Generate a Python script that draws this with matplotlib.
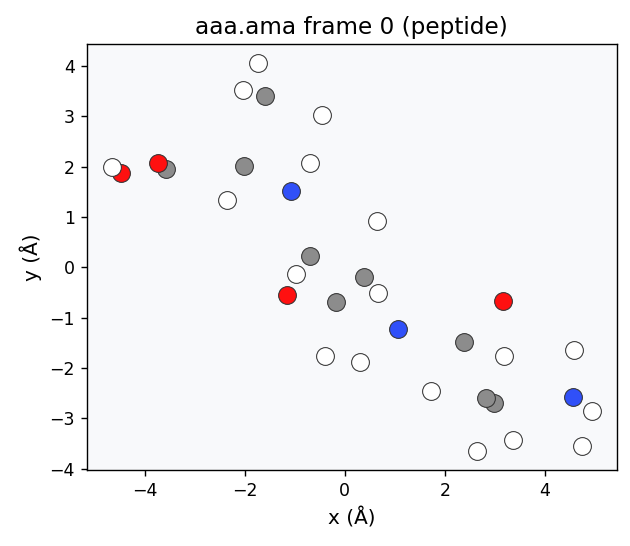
import numpy as np
import matplotlib
matplotlib.use("Agg")
import matplotlib.pyplot as plt

# atom coordinates (Angstrom), grouped by element
c_x = [-1.60, -2.02, -3.58, -0.70, 0.38, -0.18, 2.38, 2.98, 2.82]
c_y = [3.41, 2.02, 1.96, 0.22, -0.20, -0.69, -1.49, -2.70, -2.60]

o_x = [-4.48, -3.74, -1.16, 3.16]
o_y = [1.88, 2.08, -0.56, -0.67]

h_x = [-1.74, -2.04, -0.46, -4.66, -0.70, -2.36, 0.64, -0.98, 0.66,
       -0.40, 0.30, 3.18, 4.58, 1.72, 4.94, 3.36, 2.64, 4.74]
h_y = [4.05, 3.53, 3.02, 1.99, 2.07, 1.33, 0.92, -0.14, -0.51,
       -1.77, -1.88, -1.77, -1.65, -2.46, -2.86, -3.43, -3.65, -3.55]

n_x = [-1.08, 1.06, 4.56]
n_y = [1.51, -1.23, -2.58]

fig = plt.figure(figsize=(5.04, 4.368), dpi=125)
ax = fig.add_axes([0.138, 0.139, 0.841, 0.780])
ax.set_facecolor("#f8f9fb")

# draw order: carbon, oxygen, hydrogen, nitrogen
ax.scatter(c_x, c_y, s=105, c="#8c8c8c", edgecolors="#333333", linewidths=0.6, zorder=2)
ax.scatter(o_x, o_y, s=105, c="#ff1010", edgecolors="#333333", linewidths=0.6, zorder=2)
ax.scatter(h_x, h_y, s=105, c="white", edgecolors="#333333", linewidths=0.6, zorder=2)
ax.scatter(n_x, n_y, s=105, c="#3050f8", edgecolors="#333333", linewidths=0.6, zorder=2)

ax.set_xlim(-5.16, 5.44)
ax.set_ylim(-4.03, 4.43)
ax.set_xticks([-4, -2, 0, 2, 4])
ax.set_yticks([-4, -3, -2, -1, 0, 1, 2, 3, 4])
ax.set_xlabel("x (Å)", fontsize=11.5)
ax.set_ylabel("y (Å)", fontsize=11.5)
ax.set_title("aaa.ama frame 0 (peptide)", fontsize=13.3)

fig.savefig("out.png", dpi=125)
